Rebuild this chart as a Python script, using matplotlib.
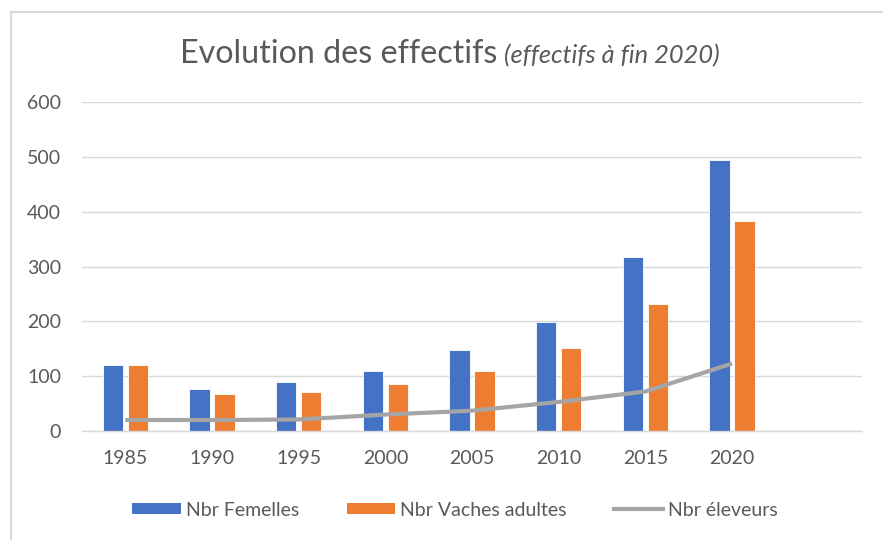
import matplotlib
matplotlib.use("Agg")
import matplotlib.pyplot as plt
from matplotlib.patches import Patch
from matplotlib.lines import Line2D
import numpy as np

years = ["1985", "1990", "1995", "2000", "2005", "2010", "2015", "2020"]
femelles = [120, 76, 89, 110, 147, 199, 318, 494]
vaches = [120, 68, 72, 86, 110, 151, 232, 383]
eleveurs = [20, 20, 21, 30, 37, 53, 72, 123]
yticks = [0, 100, 200, 300, 400, 500, 600]

plt.rcParams['font.family'] = ['Lato', 'DejaVu Sans']
grey_txt = "#595959"
blue = "#4472C4"
orange = "#ED7D31"
lgrey = "#A5A5A5"

W, H = 883, 540
fig = plt.figure(figsize=(W / 100, H / 100), dpi=100)
ax = fig.add_axes([82 / W, 1 - 431 / H, (862 - 82) / W, (431 - 102) / H])

x = np.arange(len(years))
bw = 0.235
off = 0.145
ax.bar(x - off, femelles, width=bw, color=blue, edgecolor="white", linewidth=0.6, zorder=2)
ax.bar(x + off, vaches, width=bw, color=orange, edgecolor="white", linewidth=0.6, zorder=2)
ax.plot(x, eleveurs, color=lgrey, linewidth=3.0, solid_capstyle="butt",
        solid_joinstyle="round", zorder=3)

ax.set_xlim(-0.5, 8.5)
ax.set_ylim(0, 600)
ax.set_yticks(yticks)
ax.set_yticklabels([str(v) for v in yticks])
ax.set_xticks(x)
ax.set_xticklabels(years)
ax.grid(axis="y", color="#D9D9D9", linewidth=1.0, zorder=0)
ax.set_axisbelow(True)
for s in ["top", "right", "left"]:
    ax.spines[s].set_visible(False)
ax.spines["bottom"].set_color("#D9D9D9")
ax.spines["bottom"].set_linewidth(1.0)
ax.tick_params(axis="both", length=0, labelsize=14, labelcolor=grey_txt)
ax.tick_params(axis="y", pad=15)
ax.tick_params(axis="x", pad=14)

# title in two parts
t1 = fig.text(180 / W, 1 - 63 / H, "Evolution des effectifs", fontsize=23.2,
              color=grey_txt, ha="left", va="baseline")
fig.canvas.draw()
r = fig.canvas.get_renderer()
bb = t1.get_window_extent(renderer=r)
fig.text((bb.x1 + 7) / W, 1 - 63 / H, "(effectifs à fin 2020)", fontsize=18.3,
         style="italic", color=grey_txt, ha="left", va="baseline")

# legend
handles = [Patch(facecolor=blue, edgecolor="none"),
           Patch(facecolor=orange, edgecolor="none"),
           Line2D([0], [0], color=lgrey, linewidth=3.0)]
labels = ["Nbr Femelles", "Nbr Vaches adultes", "Nbr éleveurs"]
leg = fig.legend(handles, labels, loc="center", bbox_to_anchor=(455 / W, 1 - 510 / H),
                 ncol=3, frameon=False, fontsize=14, handlelength=2.5, handleheight=0.5,
                 handletextpad=0.25, columnspacing=2.45, labelcolor=grey_txt)

# chart border (top and left)
fig.add_artist(Line2D([11 / W, 1], [1 - 12 / H, 1 - 12 / H], color="#D9D9D9", linewidth=1.5,
                      transform=fig.transFigure))
fig.add_artist(Line2D([11 / W, 11 / W], [0, 1 - 12 / H], color="#D9D9D9", linewidth=1.5,
                      transform=fig.transFigure))

fig.savefig("out.png", dpi=100)
